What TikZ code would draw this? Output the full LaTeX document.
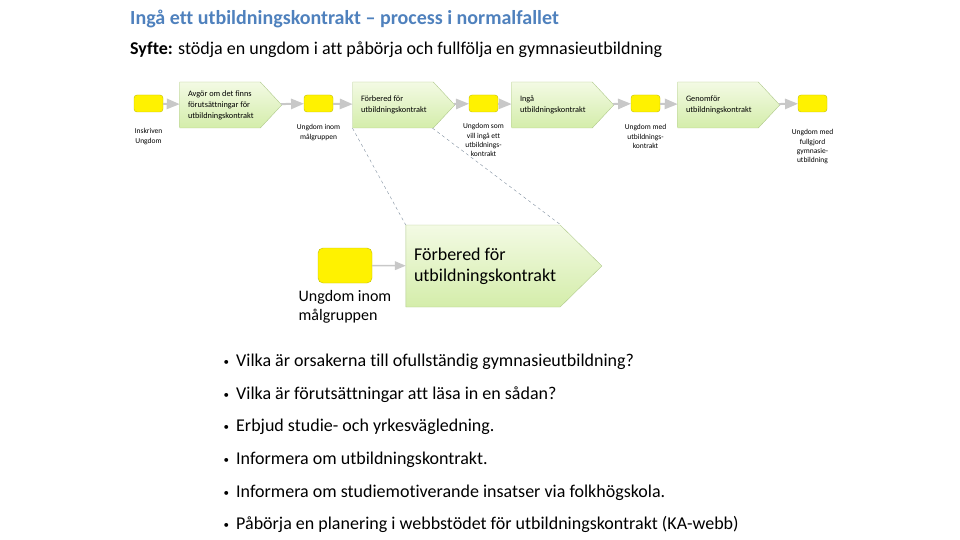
\documentclass[tikz,border=0pt]{standalone}
\usepackage{fontspec}
\setmainfont{Carlito}[Ligatures=CommonOff]
\usepackage{enumitem}
\usetikzlibrary{shapes.symbols, arrows, calc}
\usetikzlibrary{positioning}

\definecolor{titleblue}{HTML}{4F81BD}
\definecolor{chevtop}{HTML}{F3FAE4}
\definecolor{chevbot}{HTML}{D4EDAA}
\definecolor{chevline}{HTML}{AFC98A}
\definecolor{boxline}{HTML}{C2BE00}
\definecolor{flowgray}{HTML}{C8C8C8}
\definecolor{zoomline}{HTML}{7D8C9C}

\begin{document}
\begin{tikzpicture}[x=1pt, y=-1pt,
        nodes={font=\fontsize{7.5}{9.4}\selectfont},
        box_style/.style={rectangle, rounded corners=3pt, draw=boxline, fill=yellow,
          minimum width=29pt, minimum height=17pt, inner sep=0pt},
        chev_style/.style={signal, signal to=east, signal pointer angle=94,
          draw=chevline, top color=chevtop, bottom color=chevbot,
          minimum width=102pt, minimum height=46pt, inner sep=0pt,
          text width=64pt, align=flush left, font=\fontsize{8.3}{11}\selectfont},
        label_style/.style={align=center, inner sep=0pt},
        flow/.style={draw=flowgray, line width=2pt, -triangle 45},
        zoom_style/.style={draw=zoomline, thin, dashed}]

      \useasboundingbox (0,0) rectangle (960,540);

      % title
      \node[anchor=base west, inner sep=0pt, text=titleblue, font=\fontsize{20}{24}\selectfont\bfseries] (title) at (130,25)
        {Ingå ett utbildningskontrakt – process i normalfallet};
      \node[anchor=base west, inner sep=0pt, font=\fontsize{18}{21}\selectfont] (purpose) at (130,55)
        {\textbf{Syfte:} stödja en ungdom i att påbörja och fullfölja en gymnasieutbildning};

      % process row
      \node[box_style] (y1) at (148.5,103.5) {};
      \node[chev_style] (assess) at (220,105) {Avgör om det finns\\förutsättningar för\\utbildningskontrakt};
      \node[box_style] (y2) at (318.5,103.5) {};
      \node[chev_style] (prep) at (393,105) {Förbered för\\utbildningskontrakt};
      \node[box_style] (y3) at (483.5,103.5) {};
      \node[chev_style] (enter) at (552,105) {Ingå\\utbildningskontrakt};
      \node[box_style] (y4) at (645.5,103.5) {};
      \node[chev_style] (run) at (718,105) {Genomför\\utbildningskontrakt};
      \node[box_style] (y5) at (812.5,103.5) {};

      \node[label_style, below=16pt of y1] (l1) {Inskriven\\Ungdom};
      \node[label_style, below=12pt of y2] (l2) {Ungdom inom\\målgruppen};
      \node[label_style, below=11pt of y3] (l3) {Ungdom som\\vill ingå ett\\utbildnings-\\kontrakt};
      \node[label_style, below=12pt of y4] (l4) {Ungdom med\\utbildnings-\\kontrakt};
      \node[label_style, below=17pt of y5] (l5) {Ungdom med\\fullgjord\\gymnasie-\\utbildning};

      \draw[flow] (y1) -- (assess);
      \draw[flow] (assess) -- (y2);
      \draw[flow] (y2) -- (prep);
      \draw[flow] (prep) -- (y3);
      \draw[flow] (y3) -- (enter);
      \draw[flow] (enter) -- (y4);
      \draw[flow] (y4) -- (run);
      \draw[flow] (run) -- (y5);

      % enlarged step
      \node[box_style, minimum width=54pt, minimum height=35pt, rounded corners=5pt] (bigbox) at (345,265.5) {};
      \node[chev_style, minimum width=196pt, minimum height=82pt, signal pointer angle=89,
        text width=138pt, font=\fontsize{18}{21}\selectfont] (bigprep) at (483,266)
        {Förbered för\\utbildningskontrakt};
      \node[below=7pt of bigbox, align=left, inner sep=0pt, font=\fontsize{16}{19}\selectfont] (biglabel)
        {Ungdom inom\\målgruppen};
      \draw[flow, line width=1.5pt] (bigbox) -- (bigprep);

      \coordinate (prep_cut) at ($(prep.south west)+(80,0)$);
      \coordinate (big_cut) at ($(bigprep.north west)+(155,0)$);
      \draw[zoom_style] (prep.south west) -- (bigprep.north west);
      \draw[zoom_style] (prep_cut) -- (big_cut);

      % questions
      \node[anchor=north west, text width=600pt, align=flush left, inner sep=0pt, font=\fontsize{18}{21.6}\selectfont] (questions) at (220,352) {\vbox {
          {
            \begin{itemize}[leftmargin=16pt, labelsep=7pt, itemsep=11pt, topsep=0pt, parsep=0pt,
                label={\raisebox{1pt}{\fontsize{11}{11}\selectfont\textbullet}}]
              \item Vilka är orsakerna till ofullständig gymnasieutbildning?
              \item Vilka är förutsättningar att läsa in en sådan?
              \item Erbjud studie- och yrkesvägledning.
              \item Informera om utbildningskontrakt.
              \item Informera om studiemotiverande insatser via folkhögskola.
              \item Påbörja en planering i webbstödet för utbildningskontrakt (KA-webb)
            \end{itemize}}}};
    \end{tikzpicture}
\end{document}
